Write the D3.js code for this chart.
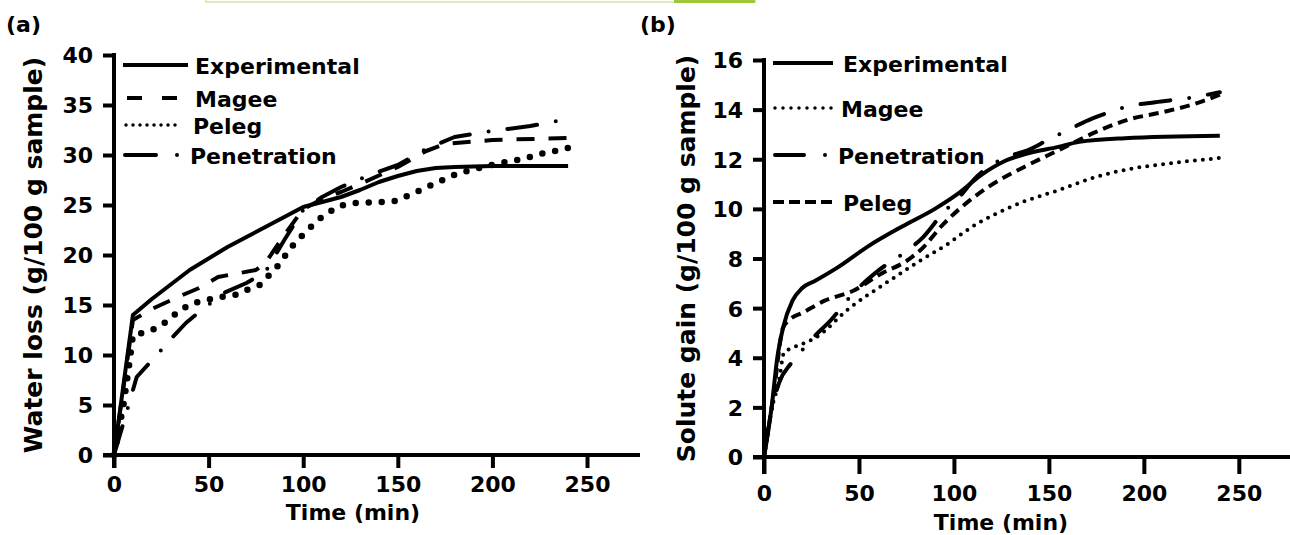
<!DOCTYPE html>
<html>
<head>
<meta charset="utf-8">
<script src="https://d3js.org/d3.v7.min.js"></script>
<style>
  html, body { margin: 0; padding: 0; background: #fff; }
  svg { display: block; }
  text { font-family: 'DejaVu Sans', sans-serif; font-weight: bold; fill: #000; }
</style>
</head>
<body>
<svg id="chart" width="1290" height="535"></svg>
<script>
// ---- data (time in min) ----
const xTicks = [0, 50, 100, 150, 200, 250]
const yTicksA = [0, 5, 10, 15, 20, 25, 30, 35, 40]
const yTicksB = [0, 2, 4, 6, 8, 10, 12, 14, 16]

// (a) water loss, g/100 g sample
const waterExperimental = [[0, 0], [10, 14], [20, 15.6], [40, 18.5], [60, 20.8], [80, 22.8], [100, 24.8], [110, 25.3], [120, 25.8], [130, 26.5], [140, 27.3], [150, 27.9], [160, 28.4], [170, 28.7], [180, 28.8], [200, 28.9], [240, 28.9]]
const waterMagee = [[0, 0], [10, 13.5], [20, 14.6], [35, 15.9], [45, 16.7], [55, 17.8], [75, 18.5], [80, 19.2], [90, 22], [100, 24.6], [110, 25.6], [120, 26.3], [130, 27.1], [150, 28.8], [165, 30.4], [175, 31.1], [200, 31.5], [240, 31.7]]
const waterPeleg = [[0, 0], [5, 5], [8, 9], [10, 12], [17, 12.3], [24, 12.8], [30, 13.7], [35, 14.5], [42, 15.2], [49, 15.5], [56, 15.8], [64, 16], [70, 16.5], [77, 17], [83, 18.2], [88, 19.2], [92, 20.4], [97, 21.5], [102, 22.4], [107, 23.4], [113, 24.2], [119, 24.9], [127, 25.2], [141, 25.3], [149, 25.4], [155, 25.9], [161, 26.4], [169, 27.1], [176, 27.7], [182, 28.2], [189, 28.5], [197, 28.9], [204, 29.2], [211, 29.4], [218, 29.7], [225, 30.1], [233, 30.4], [240, 30.7]]
const waterPenetration = [[0, 0], [7, 4.5], [10, 6.5], [12, 7.8], [25, 10.5], [31, 11.8], [38, 13.2], [45, 14.3], [58, 16.2], [70, 17.2], [80, 18.3], [90, 21.5], [100, 24.5], [110, 25.8], [120, 26.8], [135, 28], [150, 29], [165, 30.6], [180, 31.8], [200, 32.4], [220, 32.9], [240, 33.6]]

// (b) solute gain, g/100 g sample
const soluteExperimental = [[0, 0], [4, 2], [7, 4], [10, 5.2], [15, 6.3], [20, 6.8], [27, 7.1], [38, 7.6], [55, 8.5], [73, 9.3], [90, 10], [102, 10.6], [115, 11.4], [126, 11.9], [137, 12.2], [155, 12.5], [166, 12.7], [190, 12.85], [240, 12.95]]
const soluteMagee = [[0, 0], [4, 1.9], [8, 3.1], [10.5, 4.2], [15, 4.4], [20, 4.55], [27, 4.8], [45, 6], [64, 7], [82, 7.9], [97, 8.6], [109, 9.25], [122, 9.8], [137, 10.3], [155, 10.75], [173, 11.25], [192, 11.6], [210, 11.8], [240, 12.05]]
const solutePenetration = [[0, 0], [3, 1.5], [8, 3], [14, 3.75], [20, 4.3], [27, 4.9], [35, 5.5], [47, 6.6], [60, 7.5], [75, 8.3], [83, 8.8], [95, 9.9], [102, 10.4], [112, 11.3], [125, 12], [140, 12.4], [150, 12.8], [158, 13.1], [173, 13.65], [182, 13.9], [190, 14.1], [206, 14.3], [222, 14.45], [240, 14.7]]
const solutePeleg = [[0, 0], [5, 2.5], [10, 5.2], [14, 5.57], [20, 5.8], [32, 6.3], [47, 6.7], [62, 7.4], [75, 7.9], [84, 8.46], [93, 9.27], [104, 10.07], [118, 10.88], [137, 11.69], [155, 12.36], [173, 13.04], [192, 13.6], [210, 13.9], [228, 14.26], [240, 14.6]]

// line looks
const STYLE = {
  solid: { width: 4, dash: null, cap: 'butt' },
  longDash: { width: 4, dash: '18,14', cap: 'butt' },
  bigDots: { width: 6.5, dash: '0,13', cap: 'round' },
  smallDots: { width: 4, dash: '0,8', cap: 'round' },
  shortDash: { width: 4, dash: '10,6', cap: 'butt' },
  dashDot: { width: 4, dash: '30,19,0,19', cap: 'round' },
}

const svg = d3.select('#chart')

// bit of the page header that is cut into the top of the picture
svg.append('rect')
  .attr('x', 206).attr('y', -10).attr('width', 549).attr('height', 12)
  .attr('fill', 'none').attr('stroke', '#c3df8c').attr('stroke-width', 1.2)
svg.append('rect')
  .attr('x', 674).attr('y', 0).attr('width', 81).attr('height', 3)
  .attr('fill', '#9cc83a')

function drawPanel(cfg) {
  const { tag, tagX, xRange, yRange, yDomain, yTicks, yLabel, yLabelX, timeX, timeY, tickLen, tickPad, curve, series, legend } = cfg
  const x = d3.scaleLinear().domain([0, 278]).range(xRange)
  const y = d3.scaleLinear().domain(yDomain).range(yRange)
  const g = svg.append('g')

  // panel tag
  svg.append('text')
    .attr('x', tagX).attr('y', 32)
    .style('font-size', '22px')
    .text(tag)

  // x axis
  const xAxis = g.append('g')
    .attr('transform', `translate(0,${y(0)})`)
    .call(d3.axisBottom(x).tickValues(xTicks).tickSize(tickLen).tickPadding(tickPad))
  xAxis.select('.domain').remove()
  xAxis.selectAll('line').attr('stroke', '#000').attr('stroke-width', 4)
  xAxis.selectAll('text').style('font-size', '22px').attr('fill', '#000')
  g.append('line')
    .attr('x1', x(0) - 11).attr('x2', xRange[1])
    .attr('y1', y(0)).attr('y2', y(0))
    .attr('stroke', '#000').attr('stroke-width', 4)

  // y axis
  const yAxis = g.append('g')
    .attr('transform', `translate(${x(0)},0)`)
    .call(d3.axisLeft(y).tickValues(yTicks).tickSize(11).tickPadding(10))
  yAxis.select('.domain').remove()
  yAxis.selectAll('line').attr('stroke', '#000').attr('stroke-width', 4)
  yAxis.selectAll('text').style('font-size', '22px').attr('fill', '#000').attr('dy', '0.36em')
  g.append('line')
    .attr('x1', x(0)).attr('x2', x(0))
    .attr('y1', y(yDomain[1]) - 2).attr('y2', y(0) + tickLen)
    .attr('stroke', '#000').attr('stroke-width', 4)

  // axis titles
  g.append('text')
    .attr('x', timeX).attr('y', timeY)
    .attr('text-anchor', 'middle')
    .style('font-size', '22px')
    .text('Time (min)')
  g.append('text')
    .attr('transform', `translate(${yLabelX},${(yRange[0] + yRange[1]) / 2}) rotate(-90)`)
    .attr('text-anchor', 'middle')
    .attr('dy', '0.35em')
    .style('font-size', '25px')
    .text(yLabel)

  // curves
  const line = d3.line()
    .x((d) => x(d[0]))
    .y((d) => y(d[1]))
    .curve(curve)
  series.forEach((s) => {
    const st = STYLE[s.style]
    g.append('path')
      .datum(s.data)
      .attr('d', line)
      .attr('fill', 'none')
      .attr('stroke', '#000')
      .attr('stroke-width', st.width)
      .attr('stroke-linecap', st.cap)
      .attr('stroke-linejoin', 'round')
      .attr('stroke-dasharray', st.dash)
  })

  // legend
  legend.forEach((l) => {
    g.append('line')
      .attr('x1', l.x1).attr('x2', l.x2)
      .attr('y1', l.y).attr('y2', l.y)
      .attr('stroke', '#000')
      .attr('stroke-width', l.width || 4)
      .attr('stroke-linecap', l.cap || 'butt')
      .attr('stroke-dasharray', l.dash || null)
    g.append('text')
      .attr('x', l.tx).attr('y', l.y + 9)
      .style('font-size', '22px')
      .text(l.name)
  })
}

drawPanel({
  tag: '(a)',
  tagX: 6,
  xRange: [114, 640],
  yRange: [455, 55],
  yDomain: [0, 40],
  yTicks: yTicksA,
  yLabel: 'Water loss (g/100 g sample)',
  yLabelX: 33,
  timeX: 353,
  timeY: 520,
  tickLen: 13,
  tickPad: 8,
  curve: d3.curveLinear,
  series: [
    { data: waterExperimental, style: 'solid' },
    { data: waterMagee, style: 'longDash' },
    { data: waterPeleg, style: 'bigDots' },
    { data: waterPenetration, style: 'dashDot' },
  ],
  legend: [
    { name: 'Experimental', y: 65, x1: 123, x2: 188, tx: 195 },
    { name: 'Magee', y: 98, x1: 127, x2: 177, tx: 195, dash: '15,20' },
    { name: 'Peleg', y: 125, x1: 126, x2: 182, tx: 193, dash: '0,7', cap: 'round', width: 3.5 },
    { name: 'Penetration', y: 155, x1: 125, x2: 183, tx: 190, dash: '31,21,0,100', cap: 'round' },
  ],
})

drawPanel({
  tag: '(b)',
  tagX: 640,
  xRange: [764, 1292],
  yRange: [457, 60],
  yDomain: [0, 16],
  yTicks: yTicksB,
  yLabel: 'Solute gain (g/100 g sample)',
  yLabelX: 686,
  timeX: 1001,
  timeY: 530,
  tickLen: 17,
  tickPad: 11,
  curve: d3.curveMonotoneX,
  series: [
    { data: soluteExperimental, style: 'solid' },
    { data: soluteMagee, style: 'smallDots' },
    { data: solutePenetration, style: 'dashDot' },
    { data: solutePeleg, style: 'shortDash' },
  ],
  legend: [
    { name: 'Experimental', y: 63, x1: 773, x2: 833, tx: 843 },
    { name: 'Magee', y: 108, x1: 775, x2: 832, tx: 841, dash: '0,8', cap: 'round', width: 3.5 },
    { name: 'Penetration', y: 155, x1: 775, x2: 830, tx: 838, dash: '29,21,0,100', cap: 'round' },
    { name: 'Peleg', y: 202, x1: 773, x2: 835, tx: 843, dash: '11,5' },
  ],
})
</script>
</body>
</html>
